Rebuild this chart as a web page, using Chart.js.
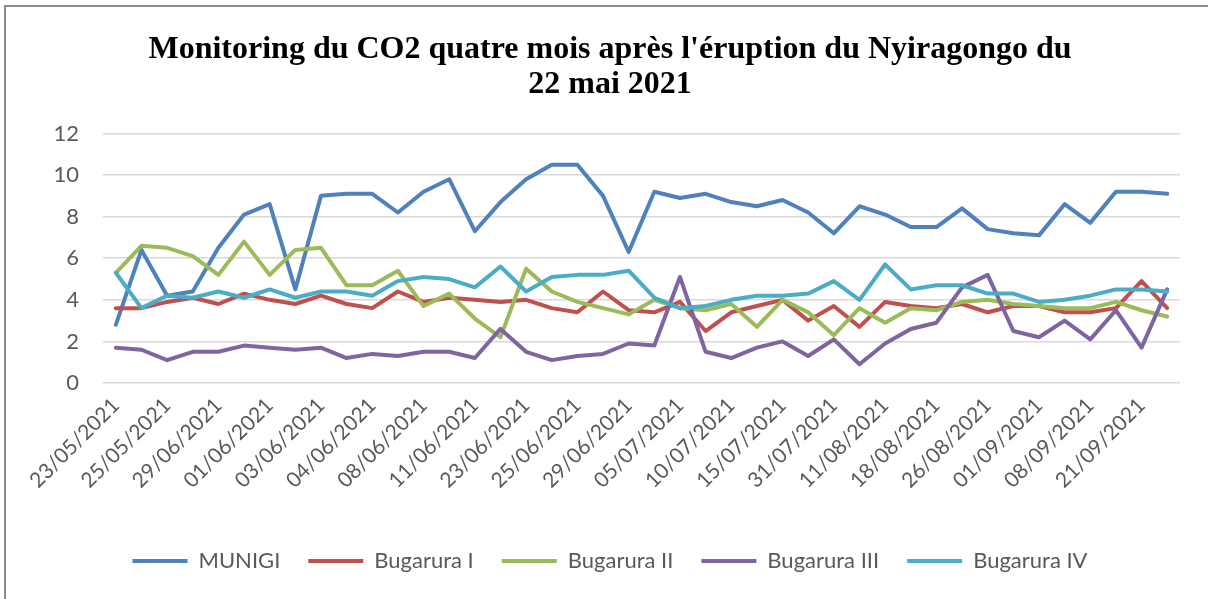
<!DOCTYPE html>
<html><head><meta charset="utf-8">
<script src="https://cdn.jsdelivr.net/npm/chart.js@4.4.1/dist/chart.umd.min.js"></script>
<style>html,body{margin:0;padding:0;background:#fff;} #wrap{position:relative;width:1208px;height:599px;}</style>
</head><body><div id="wrap"><canvas id="c" width="1208" height="599"></canvas></div>
<script>
const categories = [
 "23/05/2021","24/05/2021","25/05/2021","27/05/2021","29/06/2021","31/05/2021","01/06/2021","02/06/2021",
 "03/06/2021","03/06/2021","04/06/2021","07/06/2021","08/06/2021","10/06/2021","11/06/2021","22/06/2021",
 "23/06/2021","24/06/2021","25/06/2021","28/06/2021","29/06/2021","01/07/2021","05/07/2021","08/07/2021",
 "10/07/2021","13/07/2021","15/07/2021","29/07/2021","31/07/2021","05/08/2021","11/08/2021","16/08/2021",
 "18/08/2021","24/08/2021","26/08/2021","31/08/2021","01/09/2021","06/09/2021","08/09/2021","15/09/2021",
 "21/09/2021","28/09/2021"
];
const seriesNames = ["MUNIGI","Bugarura I","Bugarura II","Bugarura III","Bugarura IV"];
const munigi = [2.8,6.4,4.2,4.4,6.5,8.1,8.6,4.5,9.0,9.1,9.1,8.2,9.2,9.8,7.3,8.7,9.8,10.5,10.5,9.0,6.3,9.2,8.9,9.1,8.7,8.5,8.8,8.2,7.2,8.5,8.1,7.5,7.5,8.4,7.4,7.2,7.1,8.6,7.7,9.2,9.2,9.1];
const bugaruraI = [3.6,3.6,3.9,4.1,3.8,4.3,4.0,3.8,4.2,3.8,3.6,4.4,3.9,4.1,4.0,3.9,4.0,3.6,3.4,4.4,3.5,3.4,3.9,2.5,3.4,3.7,4.0,3.0,3.7,2.7,3.9,3.7,3.6,3.8,3.4,3.7,3.7,3.4,3.4,3.6,4.9,3.6];
const bugaruraII = [5.3,6.6,6.5,6.1,5.2,6.8,5.2,6.4,6.5,4.7,4.7,5.4,3.7,4.3,3.1,2.2,5.5,4.4,3.9,3.6,3.3,4.0,3.6,3.5,3.8,2.7,4.0,3.4,2.3,3.6,2.9,3.6,3.5,3.9,4.0,3.8,3.7,3.6,3.6,3.9,3.5,3.2];
const bugaruraIII = [1.7,1.6,1.1,1.5,1.5,1.8,1.7,1.6,1.7,1.2,1.4,1.3,1.5,1.5,1.2,2.6,1.5,1.1,1.3,1.4,1.9,1.8,5.1,1.5,1.2,1.7,2.0,1.3,2.1,0.9,1.9,2.6,2.9,4.6,5.2,2.5,2.2,3.0,2.1,3.5,1.7,4.5];
const bugaruraIV = [5.3,3.6,4.2,4.1,4.4,4.1,4.5,4.1,4.4,4.4,4.2,4.9,5.1,5.0,4.6,5.6,4.4,5.1,5.2,5.2,5.4,4.1,3.6,3.7,4.0,4.2,4.2,4.3,4.9,4.0,5.7,4.5,4.7,4.7,4.3,4.3,3.9,4.0,4.2,4.5,4.5,4.4];
const yTicks = [0,2,4,6,8,10,12];
const colors = ["#4F81BD","#C0504D","#9BBB59","#8064A2","#4BACC6"];
const titleLines = ["Monitoring du CO2 quatre mois après l'éruption du Nyiragongo du","22 mai 2021"];

const allSeries = [munigi,bugaruraI,bugaruraII,bugaruraIII,bugaruraIV];
const datasets = allSeries.map((d,i)=>({
  label: seriesNames[i], data: d, borderColor: colors[i], backgroundColor: colors[i],
  borderWidth: 4, pointRadius: 0, pointHoverRadius: 0, tension: 0,
  borderCapStyle: 'round', borderJoinStyle: 'round', fill: false,
  order: allSeries.length - 1 - i
}));

const framePlugin = { id:'frame', beforeDraw(chart){
  const ctx = chart.ctx; ctx.save();
  ctx.fillStyle = '#fff'; ctx.fillRect(0,0,chart.width,chart.height);
  ctx.strokeStyle = '#8c8c8c'; ctx.lineWidth = 2;
  ctx.beginPath(); ctx.moveTo(5,chart.height); ctx.lineTo(5,6); ctx.lineTo(chart.width,6); ctx.stroke();
  ctx.restore();
}};

const txtColor = '#595959';
new Chart(document.getElementById('c'), {
  type: 'line',
  data: { labels: categories, datasets },
  plugins: [framePlugin],
  options: {
    responsive: false, animation: false, devicePixelRatio: 1,
    layout: { padding: { left: 12, right: 0, top: 0, bottom: 17 } },
    plugins: {
      tooltip: { enabled: false },
      title: { display: true, text: titleLines, color: '#000',
        font: { family: 'Liberation Serif', weight: 'bold', size: 32, lineHeight: 1.07 },
        padding: { top: 33, bottom: 32 } },
      legend: { position: 'bottom',
        labels: { color: txtColor, font: { family: 'Lato', size: 22 }, boxWidth: 55, boxHeight: 4, padding: 28,
          generateLabels(chart){
            return Chart.defaults.plugins.legend.labels.generateLabels(chart)
              .sort((a,b)=>a.datasetIndex-b.datasetIndex)
              .map(l=>({...l, fillStyle: l.strokeStyle, lineWidth: 0}));
          } } }
    },
    scales: {
      x: { type: 'category', offset: true,
        grid: { display: false, drawTicks: false }, border: { display: false },
        ticks: { autoSkip: false, maxRotation: 45, minRotation: 45, padding: 10, color: txtColor,
          font: { family: 'Lato', size: 21 },
          callback(v, i){ return i % 2 === 0 ? categories[i] : ''; } },
        afterFit(s){ s.height = 139; } },
      y: { min: 0, max: 12,
        grid: { color: '#d9d9d9', lineWidth: 1.5, drawTicks: false }, border: { display: false },
        ticks: { padding: 24, color: txtColor, font: { family: 'Lato', size: 22 } },
        afterBuildTicks(s){ s.ticks = yTicks.map(v=>({value:v})); },
        afterFit(s){ s.width = 91; } },
      yRight: { position: 'right', display: true,
        grid: { display: false, drawTicks: false }, border: { display: false },
        ticks: { display: false },
        afterFit(s){ s.width = 28; } }
    }
  }
});
</script></body></html>
